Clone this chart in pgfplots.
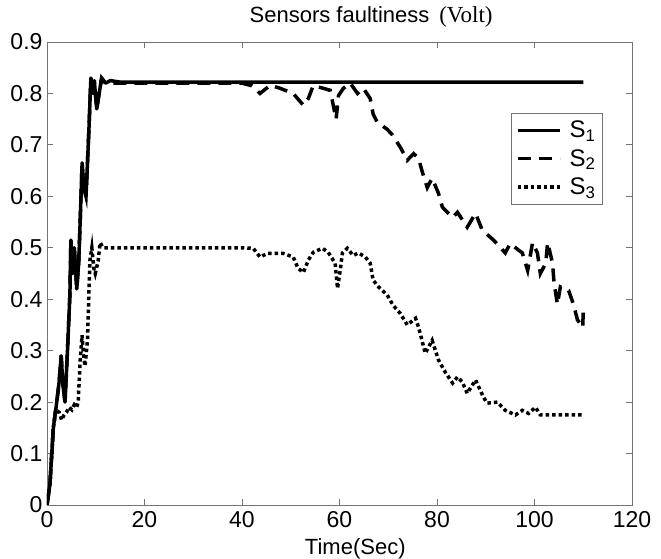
\documentclass[border=0pt]{standalone}
\usepackage{fontspec}
\setmainfont{Liberation Sans}
\newfontfamily\timesfont{Liberation Serif}
\usepackage{pgfplots}
\pgfplotsset{compat=1.18}
\begin{document}
\begin{tikzpicture}
\useasboundingbox (-47pt,-54pt) rectangle (614pt,505pt);
\begin{axis}[
  scale only axis,
  width=585pt, height=463pt,
  xmin=0, xmax=120, ymin=0, ymax=0.9,
  xtick={0,20,40,60,80,100,120},
  ytick={0,0.1,0.2,0.3,0.4,0.5,0.6,0.7,0.8,0.9},
  yticklabels={0,0.1,0.2,0.3,0.4,0.5,0.6,0.7,0.8,0.9},
  xticklabels={0,20,40,60,80,100,120},
  tick align=inside,
  major tick length=6pt,
  axis line style={black!55, line width=0.8pt},
  tick style={black!55, line width=0.8pt},
  ticklabel style={font=\fontsize{23}{26}\selectfont},
  yticklabel style={xshift=-1pt},
  xticklabel style={yshift=-3pt},
  /pgf/number format/assume math mode=true,
  xlabel={Time(Sec)},
  xlabel style={font=\fontsize{22}{24}\selectfont, at={(axis description cs:0.527,0)}, anchor=north, yshift=-30pt},
  title={Sensors faultiness\hspace{0.45em}{\timesfont\fontsize{23}{26}\selectfont(Volt)}},
  title style={font=\fontsize{22}{24}\selectfont, at={(axis description cs:0.554,1.018)}, anchor=south, inner sep=0pt},
  legend style={at={(rel axis cs:0.95,0.847)}, anchor=north east, draw=black!55, line width=0.8pt,
    font=\fontsize{24}{26}\selectfont, row sep=6pt, inner xsep=5pt, inner ysep=6pt},
  legend cell align=left,
  legend image code/.code={\draw[#1] (0pt,0pt) -- (42pt,0pt); \path (48pt,0pt);},
]
\addplot[black, line width=3.5pt, line join=round] coordinates {
(0,0) (0.6,0.04) (1.3,0.15) (2,0.2) (2.5,0.24) (2.9,0.29) (3.3,0.23) (3.7,0.2) (4.2,0.3) (4.7,0.41) (4.9,0.515) (5.3,0.45) (5.6,0.5) (6.1,0.42) (6.5,0.47) (6.8,0.55) (7.2,0.665) (7.5,0.62) (8,0.6) (8.6,0.73) (9,0.83) (9.4,0.8) (9.7,0.825) (10.2,0.77) (10.7,0.8) (11.2,0.83) (12,0.82) (13,0.825) (15,0.822) (20,0.822) (110,0.822)
};
\addlegendentry{S\textsubscript{1}}
\addplot[black, line width=3.5pt, dash pattern=on 13pt off 8pt] coordinates {
(0,0) (0.6,0.04) (1.3,0.15) (2,0.2) (2.5,0.24) (2.9,0.29) (3.3,0.23) (3.7,0.2) (4.2,0.3) (4.7,0.41) (4.9,0.515) (5.3,0.45) (5.6,0.5) (6.1,0.42) (6.5,0.47) (6.8,0.55) (7.2,0.665) (7.5,0.62) (8,0.6) (8.6,0.73) (9,0.83) (9.4,0.8) (9.7,0.825) (10.2,0.77) (10.7,0.8) (11.2,0.83) (12,0.82) (20,0.82) (30,0.82) (40,0.82) (42,0.815) (43.7,0.80) (45.8,0.816) (47.8,0.81) (50.5,0.80) (52.6,0.777) (53.6,0.79) (54.6,0.815) (56.7,0.81) (58.1,0.806) (59.3,0.75) (59.8,0.796) (60.8,0.81) (62.2,0.82) (63.7,0.80) (64.9,0.81) (66.3,0.79) (66.9,0.76) (67.7,0.745) (69.8,0.73) (70.8,0.72) (72.5,0.695) (73.9,0.67) (75.2,0.683) (76.2,0.674) (77,0.647) (78,0.617) (79,0.635) (80.3,0.606) (81.1,0.579) (83.2,0.559) (84.2,0.569) (86.2,0.54) (87.9,0.567) (89.3,0.534) (91.6,0.515) (94,0.49) (95,0.508) (97.5,0.49) (98.6,0.456) (99.6,0.51) (100.6,0.49) (101.2,0.45) (102.3,0.47) (102.7,0.51) (103.7,0.47) (104,0.433) (104.7,0.39) (105.3,0.424) (107,0.417) (108,0.39) (108.8,0.36) (109.9,0.345) (110,0.38)
};
\addlegendentry{S\textsubscript{2}}
\addplot[black, line width=3.5pt, dash pattern=on 3.5pt off 3pt] coordinates {
(0,0) (0.6,0.04) (1.3,0.15) (1.8,0.185) (2.5,0.18) (3,0.165) (3.5,0.175) (4,0.18) (4.5,0.19) (5.1,0.185) (5.6,0.195) (6.1,0.19) (6.4,0.2) (6.8,0.28) (7.2,0.33) (7.5,0.29) (7.8,0.27) (8.3,0.32) (8.8,0.475) (9.2,0.5) (9.6,0.46) (9.9,0.45) (10.5,0.475) (10.9,0.51) (11.5,0.5) (12.2,0.5) (20,0.5) (40,0.5) (42.3,0.499) (43.7,0.482) (45.2,0.489) (48.5,0.489) (50.5,0.482) (51.5,0.46) (52.6,0.452) (53.6,0.476) (54.6,0.491) (56.5,0.499) (57.7,0.491) (59.1,0.47) (59.6,0.421) (60.2,0.46) (60.6,0.49) (61.6,0.499) (62.8,0.485) (63.9,0.49) (65.3,0.482) (66.3,0.47) (66.9,0.437) (68,0.424) (69.8,0.408) (71,0.388) (72.5,0.372) (73.9,0.35) (75.6,0.363) (76.2,0.346) (77.6,0.295) (79,0.32) (80.3,0.282) (81.7,0.258) (83.2,0.237) (84.2,0.249) (85.2,0.239) (86.2,0.217) (87.9,0.243) (89.5,0.21) (90.3,0.198) (92.4,0.2) (94,0.184) (96.1,0.175) (97.5,0.184) (98.8,0.178) (100.2,0.19) (101.2,0.175) (110,0.175)
};
\addlegendentry{S\textsubscript{3}}
\end{axis}
\end{tikzpicture}
\end{document}
